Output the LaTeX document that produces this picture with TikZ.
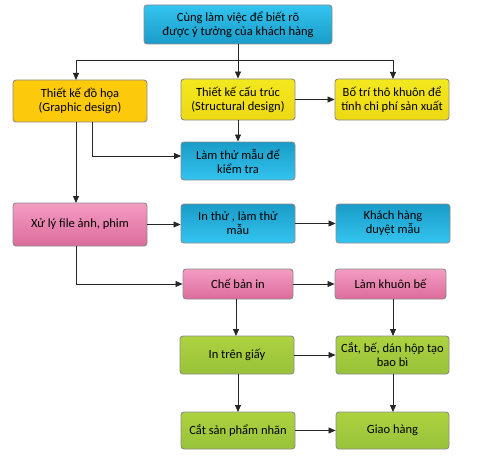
\documentclass[tikz,border=0pt]{standalone}
\usepackage{fontspec}
\setmainfont{Carlito}
\usetikzlibrary{arrows.meta,positioning}
\definecolor{bdr}{HTML}{8C8C8C}
\definecolor{blueL}{HTML}{33C4EF}
\definecolor{blueD}{HTML}{1A9CC8}
\definecolor{orng}{HTML}{FDC90B}
\definecolor{yelT}{HTML}{F3E81E}
\definecolor{yelB}{HTML}{EDD814}
\definecolor{pinkT}{HTML}{F49CC3}
\definecolor{pinkB}{HTML}{DC6C9A}
\definecolor{grnT}{HTML}{ADD23F}
\definecolor{grnB}{HTML}{98C23A}
\tikzset{
  x=1pt,y=-1pt,
  box/.style={draw=bdr,line width=0.9pt,rounded corners=3pt,align=center,
    inner sep=1pt,font=\fontsize{12.5}{14}\selectfont,text=black},
  bluebox/.style={box,top color=blueD,bottom color=blueL},
  blueboxinv/.style={box,top color=blueL,bottom color=blueD},
  orangebox/.style={box,fill=orng},
  yellowbox/.style={box,top color=yelT,bottom color=yelB},
  pinkbox/.style={box,top color=pinkT,bottom color=pinkB},
  greenbox/.style={box,top color=grnT,bottom color=grnB},
  arr/.style={draw=black!85,line width=0.8pt,-{Triangle[length=7pt,width=6pt]}},
  ln/.style={draw=black!85,line width=0.8pt}
}
\begin{document}
\begin{tikzpicture}
\useasboundingbox (0,0) rectangle (498,460);
\node[blueboxinv,minimum width=188pt,minimum height=39pt] (top) at (238,24.5) {Cùng làm việc để biết rõ\\được ý tưởng của khách hàng};
\node[orangebox,minimum width=134pt,minimum height=42pt] (gd) at (80,101) {Thiết kế đồ họa\\(Graphic design)};
\node[yellowbox,minimum width=114pt,minimum height=41pt] (sd) at (238,99.5) {Thiết kế cấu trúc\\(Structural design)};
\node[yellowbox,minimum width=114pt,minimum height=41pt] (bt) at (392,99.5) {Bố trí thô khuôn để\\tính chi phí sản xuất};
\node[bluebox,minimum width=114pt,minimum height=38pt] (lt) at (238,161) {Làm thử mẫu để\\kiểm tra};
\node[pinkbox,minimum width=134pt,minimum height=43pt] (xl) at (80,224.5) {Xử lý file ảnh, phim};
\node[bluebox,minimum width=114pt,minimum height=39pt] (it) at (238,223.5) {In thử , làm thử\\mẫu};
\node[bluebox,minimum width=114pt,minimum height=39pt] (kh) at (393,223.5) {Khách hàng\\duyệt mẫu};
\node[pinkbox,minimum width=110pt,minimum height=30pt] (cb) at (238,284) {Chế bản in};
\node[pinkbox,minimum width=111pt,minimum height=30pt] (lk) at (390.5,284) {Làm khuôn bế};
\node[greenbox,minimum width=114pt,minimum height=38pt] (ig) at (237,355) {In trên giấy};
\node[greenbox,minimum width=113pt,minimum height=38pt] (cbe) at (392.5,355) {Cắt, bế, dán hộp tạo\\bao bì};
\node[greenbox,minimum width=114pt,minimum height=37pt] (cs) at (238,430.5) {Cắt sản phẩm nhãn};
\node[greenbox,minimum width=113pt,minimum height=37pt] (gh) at (392.5,430.5) {Giao hàng};
% connectors
\coordinate (bus) at (238,60);
\coordinate (gdin) at (76,80);
\coordinate (btin) at (393,79);
\draw[ln] (top.south) -- (bus);
\draw[arr] (bus) -| (gdin);
\draw[arr] (bus) -- (sd.north);
\draw[arr] (bus) -| (btin);
\draw[arr] (sd.east) -- (bt.west);
\draw[arr] (sd.south) -- (lt.north);
\coordinate (gdout) at (92,122);
\coordinate (ltin) at (181,156);
\draw[arr] (gdout) |- (ltin);
\coordinate (gddown) at (76,122);
\coordinate (xlin) at (76,203);
\draw[arr] (gddown) -- (xlin);
\draw[arr] (xl.east) -- (xl.east -| it.west);
\draw[arr] (it.east) -- (it.east -| kh.west);
\coordinate (xldown) at (76,246);
\draw[arr] (xldown) |- (cb.west);
\draw[arr] (cb.east) -- (lk.west);
\coordinate (cbout) at (236,299);
\coordinate (igin) at (236,336);
\draw[arr] (cbout) -- (igin);
\coordinate (lkout) at (393,299);
\coordinate (cbein) at (393,336);
\draw[arr] (lkout) -- (cbein);
\draw[arr] (ig.east) -- (ig.east -| cbe.west);
\coordinate (igout) at (238,374);
\coordinate (csin) at (238,412);
\draw[arr] (igout) -- (csin);
\coordinate (cbeout) at (393,374);
\coordinate (ghin) at (393,412);
\draw[arr] (cbeout) -- (ghin);
\draw[arr] (cs.east) -- (cs.east -| gh.west);
\end{tikzpicture}
\end{document}
